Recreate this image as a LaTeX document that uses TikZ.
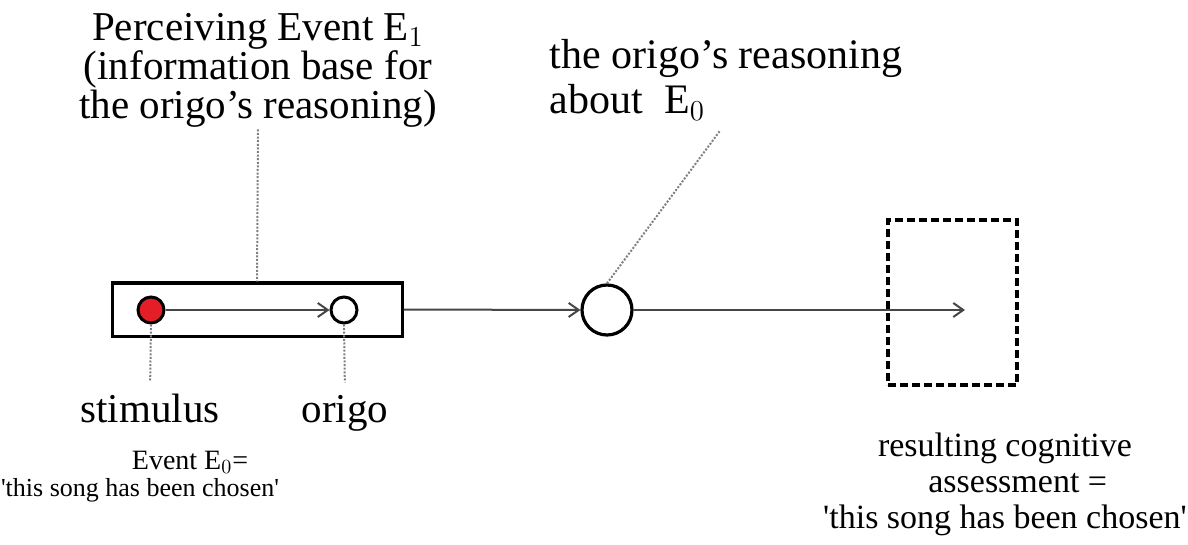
\documentclass[tikz,border=0pt]{standalone}
\usepackage{fontspec}
\setmainfont{Liberation Serif}
\usepackage{xcolor}
\usepackage{tikz}
\usetikzlibrary{arrows.meta,positioning}
\definecolor{stimred}{RGB}{228,30,38}
\definecolor{linegray}{RGB}{70,70,70}

\begin{document}
\begin{tikzpicture}[x=0.5pt,y=-0.5pt,
  dot/.style={circle,draw,line width=1.5pt,minimum size=13pt,inner sep=0pt},
  bigdot/.style={circle,draw,line width=1.6pt,minimum size=25pt,inner sep=0pt},
  frame/.style={draw,line width=1.5pt,minimum width=145pt,minimum height=26.5pt,inner sep=0pt},
  goal/.style={draw,dashed,dash pattern=on 4pt off 2pt,line width=2pt,minimum width=64.5pt,minimum height=82.5pt,inner sep=0pt},
  arr/.style={-{Straight Barb[length=5pt,width=7pt]},line width=1pt,linegray},
  lead/.style={line width=1pt,gray,dash pattern=on 1pt off 0.8pt},
  big/.style={font=\fontsize{20.5}{19.5}\selectfont,align=center,inner sep=1pt},
  small/.style={font=\fontsize{13}{14}\selectfont,inner sep=1pt}]
\useasboundingbox (0,0) rectangle (1188,545);
% event E1 box
\node[frame] (box) at (257,309.5) {};
\node[dot,fill=stimred] (stim)  at (151,310) {};
\node[dot]              (origo) at (344,310) {};
\node[bigdot]           (reason) at (607,310) {};
\node[goal]             (res) at (952.5,302.5) {};
\coordinate (tip) at (965,310);
% labels
\node[big] (title) at (258,70) {Perceiving Event E$_1$\\(information base for\\the origo's reasoning)};
\node[big,align=left,font=\fontsize{21}{22.5}\selectfont] (reasonlbl) at (726,80) {the origo's reasoning\\about\ \ E$_0$};
\node[big,inner sep=0pt,anchor=base] (stimlbl)  at (150,422) {stimulus};
\node[big,inner sep=0pt,anchor=base] (origolbl) at (345,422) {origo};
\node[small,font=\fontsize{14}{14}\selectfont] (evt) at (190,462) {Event E$_0$=};
\node[small] (evtq) at (140,490) {\textquotesingle this song has been chosen\textquotesingle};
\node[big,inner sep=0pt,font=\fontsize{17}{18}\selectfont] (reslbl) at (1005,484) {resulting cognitive\\\ \ \ assessment =\\\textquotesingle this song has been chosen\textquotesingle};
% main line
\draw[arr] (stim) -- (origo);
\draw[arr] (box.east) -- (reason.west);
\draw[arr] (reason.east) -- (tip);
% leaders
\draw[lead] (title.south) -- (box.north);
\draw[lead,shorten >=6pt] (stim.south) -- (stimlbl.north);
\draw[lead,shorten >=6pt] (origo.south) -- (origolbl.north);
\draw[lead,shorten >=5pt] (reason.north) -- (reasonlbl.south);
\end{tikzpicture}
\end{document}
